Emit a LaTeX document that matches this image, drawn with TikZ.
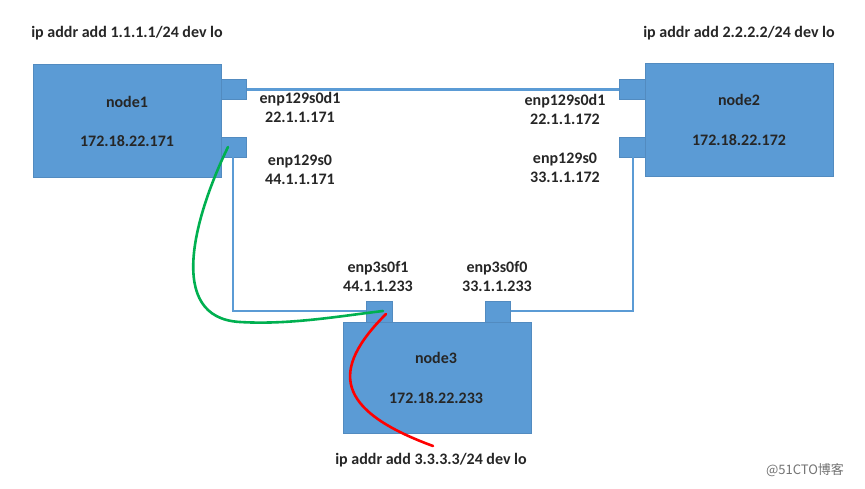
\documentclass[tikz,border=0pt]{standalone}
\usepackage{fontspec}
\setmainfont{Carlito}
\newfontfamily\cjkfont{Noto Sans CJK SC}
\begin{document}
\begin{tikzpicture}[x=1pt,y=-1pt,
  box/.style={draw=officeblue!90!black,line width=0.6pt,fill=officeblue,anchor=north west,inner sep=0pt},
  lbl/.style={font=\bfseries\fontsize{16}{19}\selectfont,text=black!85,align=center},
  link/.style={draw=officeblue,line width=2.4pt},
  ]
\definecolor{officeblue}{RGB}{91,155,213}
\definecolor{greenc}{RGB}{0,176,80}
\fill[white] (0,0) rectangle (865,488);
\useasboundingbox (0,0) rectangle (865,488);
% nodes
\node[box,minimum width=188pt,minimum height=113pt] (n1) at (33,64) {};
\node[box,minimum width=188pt,minimum height=113pt] (n2) at (645,63) {};
\node[box,minimum width=188pt,minimum height=111pt] (n3) at (343,322) {};
% ports
\node[box,minimum width=25pt,minimum height=20pt] (p1a) at (221,79) {};
\node[box,minimum width=25pt,minimum height=20pt] (p1b) at (221,137) {};
\node[box,minimum width=26pt,minimum height=20pt] (p2a) at (619,79) {};
\node[box,minimum width=26pt,minimum height=20pt] (p2b) at (619,137) {};
\node[box,minimum width=26pt,minimum height=21pt] (p3a) at (366,301) {};
\node[box,minimum width=25pt,minimum height=21pt] (p3b) at (485,301) {};
% links
\draw[link] (p1a.east) -- (p2a.west);
\coordinate (c1) at (233,311);
\coordinate (c2) at (633,311);
\draw[link] (233,157) -- (c1) -- (p3a.west |- c1);
\draw[link] (633,157) -- (c2) -- (p3b.east |- c2);
% node texts
\node[lbl] (t1a) at (127,102) {node1};
\node[lbl] (t1b) at (127,141) {172.18.22.171};
\node[lbl] (t2a) at (739,100) {node2};
\node[lbl] (t2b) at (739,140) {172.18.22.172};
\node[lbl] (t3a) at (436,358) {node3};
\node[lbl] (t3b) at (436,398) {172.18.22.233};
% port labels
\node[lbl] (l1a) at (300,107.5) {enp129s0d1\\22.1.1.171};
\node[lbl] (l1b) at (300,169.5) {enp129s0\\44.1.1.171};
\node[lbl] (l2a) at (565,109.5) {enp129s0d1\\22.1.1.172};
\node[lbl] (l2b) at (565,167.5) {enp129s0\\33.1.1.172};
\node[lbl] (l3a) at (378,276.5) {enp3s0f1\\44.1.1.233};
\node[lbl] (l3b) at (497,276.5) {enp3s0f0\\33.1.1.233};
% commands
\node[lbl] (ip1) at (127,33) {ip addr add 1.1.1.1/24 dev lo};
\node[lbl] (ip2) at (739,33) {ip addr add 2.2.2.2/24 dev lo};
\node[lbl] (ip3) at (431,460) {ip addr add 3.3.3.3/24 dev lo};
% curves
\coordinate (g0) at (228,147);
\coordinate (g1) at (383,311);
\draw[greenc,line width=2.6pt,line cap=round] (g0) .. controls (195,215) and (165,318) .. (240,322) .. controls (290,325) and (340,316) .. (g1);
\coordinate (r0) at (386,314);
\coordinate (r1) at (433,446);
\draw[red,line width=2.6pt,line cap=round] (r0) .. controls (330,370) and (335,410) .. (r1);
% watermark
\node[text=black!55,font=\cjkfont\fontsize{13}{15}\selectfont] (wm) at (805,470) {@51CTO博客};
\end{tikzpicture}
\end{document}
